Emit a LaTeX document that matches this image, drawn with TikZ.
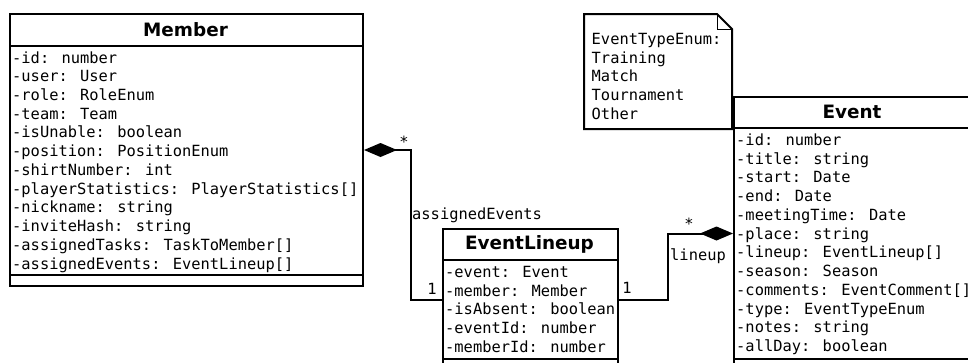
\documentclass[tikz,border=0pt]{standalone}
\usepackage{fontspec}
\setmainfont{DejaVu Sans}
\newfontfamily\attrfont{DejaVu Sans Mono}
\usetikzlibrary{arrows.meta}

\tikzset{
  classbox/.style={draw, line width=2pt, fill=white, rectangle, inner sep=0pt,
                   anchor=north west},
  sepline/.style={line width=2pt},
  classtitle/.style={anchor=base, inner sep=0pt,
                     font=\fontsize{18.4}{22}\selectfont\bfseries},
  attr/.style={anchor=base west, inner sep=0pt,
               font=\attrfont\fontsize{15.4}{18.7}\selectfont},
  mult/.style={anchor=base, inner sep=0pt,
               font=\attrfont\fontsize{15.4}{18.7}\selectfont},
  composition/.style={line width=2pt,
                      -{Diamond[length=33pt, width=14pt]}},
  notebox/.style={line width=2pt, fill=white},
  notefold/.style={line width=1pt},
}

\begin{document}
\begin{tikzpicture}[x=1pt, y=-1pt]
  \useasboundingbox (0,0) rectangle (968,362);
  \clip (0,0) rectangle (968,362);

  % ---------- Member ----------
  \node[classbox, minimum width=353pt, minimum height=272pt] (member) at (9,13) {};
  \draw[sepline] (9,46) -- (362,46);
  \draw[sepline] (9,275) -- (362,275);
  \node[classtitle] (member-title) at (185.5,36) {Member};
  \foreach \t [count=\i from 0] in {
      -id: number,
      -user: User,
      -role: RoleEnum,
      -team: Team,
      -isUnable: boolean,
      -position: PositionEnum,
      -shirtNumber: int,
      -playerStatistics: PlayerStatistics[],
      -nickname: string,
      -inviteHash: string,
      -assignedTasks: TaskToMember[],
      -assignedEvents: EventLineup[]}
    \node[attr] (member-\i) at (12, 63+18.73*\i) {\t};

  % ---------- EventLineup ----------
  \node[classbox, minimum width=175pt, minimum height=141pt] (lineup) at (442,228) {};
  \draw[sepline] (442,260) -- (617,260);
  \draw[sepline] (442,359) -- (617,359);
  \node[classtitle] (lineup-title) at (529.5,249.3) {EventLineup};
  \foreach \t [count=\i from 0] in {
      -event: Event,
      -member: Member,
      -isAbsent: boolean,
      -eventId: number,
      -memberId: number}
    \node[attr] (lineup-\i) at (445, 277.5+18.73*\i) {\t};

  % ---------- EventTypeEnum note ----------
  \draw[notebox] (584,14) -- (717,14) -- (732,29) -- (732,129) -- (584,129) -- cycle;
  \draw[notefold] (717,14) -- (717,29) -- (732,29);
  \foreach \t [count=\i from 0] in {
      EventTypeEnum:, Training, Match, Tournament, Other}
    \node[attr] (note-\i) at (591.5, 44.3+18.75*\i) {\t};

  % ---------- Event ----------
  \node[classbox, minimum width=238pt, minimum height=273pt] (event) at (733,96) {};
  \draw[sepline] (733,128) -- (971,128);
  \draw[sepline] (733,359) -- (971,359);
  \node[classtitle] (event-title) at (852,118) {Event};
  \foreach \t [count=\i from 0] in {
      -id: number,
      -title: string,
      -start: Date,
      -end: Date,
      -meetingTime: Date,
      -place: string,
      -lineup: EventLineup[],
      -season: Season,
      -comments: EventComment[],
      -type: EventTypeEnum,
      -notes: string,
      -allDay: boolean}
    \node[attr] (event-\i) at (736, 145.5+18.73*\i) {\t};

  % ---------- associations ----------
  \draw[composition] (lineup.west) -- ++(-31,0) |- (member.east);
  \draw[composition] (lineup.east) -- ++(49,0) |- (event.west);

  \node[attr] (lbl-assigned) at (412,219) {assignedEvents};
  \node[attr] (lbl-lineup) at (670,260) {lineup};
  \node[mult] (m-left-one) at (432,294) {1};
  \node[mult] (m-left-many) at (404,147) {*};
  \node[mult] (m-right-one) at (627,293) {1};
  \node[mult] (m-right-many) at (689,229) {*};
\end{tikzpicture}
\end{document}
